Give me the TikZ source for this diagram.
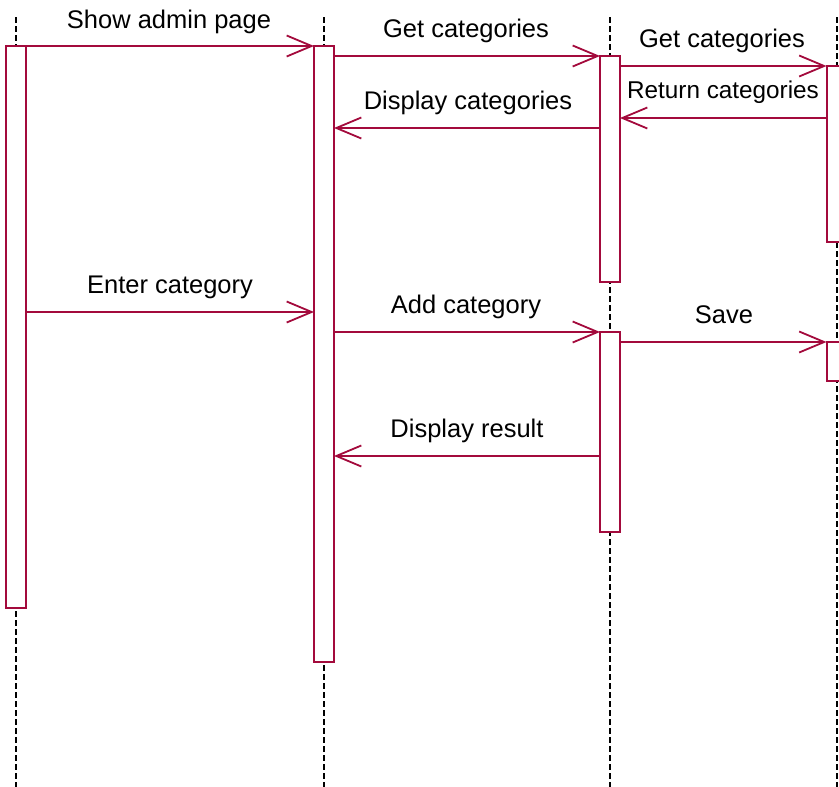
\documentclass[tikz,border=0pt]{standalone}
\usepackage{fontspec}
\setmainfont{Liberation Sans}
\usetikzlibrary{arrows.meta}
\definecolor{umlred}{RGB}{163,10,60}
\begin{document}
\begin{tikzpicture}[x=1pt,y=-1pt,
 act/.style={draw=umlred, line width=2pt, fill=white, rectangle, inner sep=0pt, outer sep=0pt, minimum width=20pt, anchor=north},
 life/.style={draw=black, line width=2pt, dash pattern=on 6pt off 3pt},
 msg/.style={draw=umlred, line width=1.8pt, -{Straight Barb[length=25pt,width=21pt,line width=1.8pt]}},
 lbl/.style={anchor=base, font=\fontsize{25.5}{30}\selectfont, inner sep=0pt},
 lbls/.style={anchor=base, font=\fontsize{24.3}{29}\selectfont, inner sep=0pt},
]
\useasboundingbox (0,0) rectangle (839,787);
% lifelines
\coordinate (Atop) at (16,17);  \coordinate (Abot) at (16,787);
\coordinate (Btop) at (324,17); \coordinate (Bbot) at (324,787);
\coordinate (Ctop) at (610,17); \coordinate (Cbot) at (610,787);
\coordinate (Dtop) at (836.5,17); \coordinate (Dbot) at (836.5,787);
\draw[life] (Atop) -- (Abot);
\draw[life] (Btop) -- (Bbot);
\draw[life] (Ctop) -- (Cbot);
\draw[life] (Dtop) -- (Dbot);
% activation boxes
\node[act, minimum height=562pt] (A) at (16,46) {};
\node[act, minimum height=616pt] (B) at (324,46) {};
\node[act, minimum height=226pt] (C1) at (610,56) {};
\node[act, minimum height=200pt] (C2) at (610,332) {};
\node[act, minimum height=176pt] (D1) at (836.5,66) {};
\node[act, minimum height=38.5pt] (D2) at (836.5,342) {};
% messages
\draw[msg] (A.north east) -- (B.north west);
\node[lbl] (m1) at (169,28) {Show admin page};
\draw[msg] (B.east |- C1.north) -- (C1.north west);
\node[lbl] (m2) at (466,37) {Get categories};
\draw[msg] (C1.east |- D1.north) -- (D1.north west);
\node[lbl] (m3) at (722,47) {Get categories};
\draw[msg] (D1.west |- 0,118) -- (C1.east |- 0,118);
\node[lbls] (m4) at (723,98) {Return categories};
\draw[msg] (C1.west |- 0,128) -- (B.east |- 0,128);
\node[lbl] (m5) at (468,109) {Display categories};
\draw[msg] (A.east |- 0,312) -- (B.west |- 0,312);
\node[lbl] (m6) at (170,293) {Enter category};
\draw[msg] (B.east |- C2.north) -- (C2.north west);
\node[lbl] (m7) at (466,313) {Add category};
\draw[msg] (C2.east |- D2.north) -- (D2.north west);
\node[lbl] (m8) at (724,323) {Save};
\draw[msg] (C2.west |- 0,456) -- (B.east |- 0,456);
\node[lbl] (m9) at (467,437) {Display result};
\end{tikzpicture}
\end{document}
